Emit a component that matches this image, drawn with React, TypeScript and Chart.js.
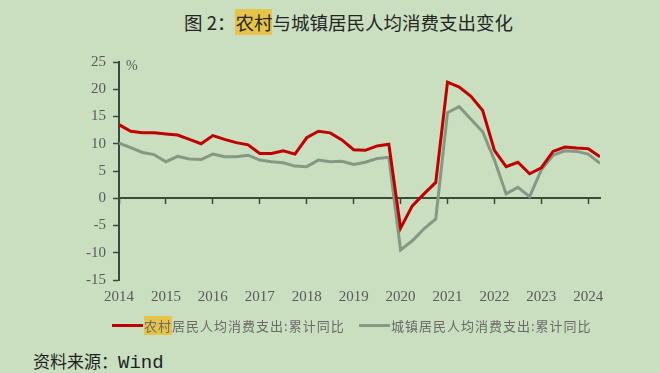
import React, { useEffect, useRef } from "react";
import { Chart, registerables } from "chart.js";

Chart.register(...registerables);

const quarters = [
  "2014Q1", "2014Q2", "2014Q3", "2014Q4",
  "2015Q1", "2015Q2", "2015Q3", "2015Q4",
  "2016Q1", "2016Q2", "2016Q3", "2016Q4",
  "2017Q1", "2017Q2", "2017Q3", "2017Q4",
  "2018Q1", "2018Q2", "2018Q3", "2018Q4",
  "2019Q1", "2019Q2", "2019Q3", "2019Q4",
  "2020Q1", "2020Q2", "2020Q3", "2020Q4",
  "2021Q1", "2021Q2", "2021Q3", "2021Q4",
  "2022Q1", "2022Q2", "2022Q3", "2022Q4",
  "2023Q1", "2023Q2", "2023Q3", "2023Q4",
  "2024Q1", "2024Q2",
];

const rural = [
  13.5, 12.3, 12.0, 12.0,
  11.8, 11.6, 10.8, 10.0,
  11.5, 10.8, 10.2, 9.8,
  8.2, 8.2, 8.7, 8.1,
  11.1, 12.3, 12.0, 10.7,
  8.9, 8.8, 9.6, 9.9,
  -5.5, -1.4, 0.8, 2.9,
  21.3, 20.4, 18.7, 16.1,
  8.8, 5.8, 6.6, 4.5,
  5.6, 8.6, 9.4, 9.2,
  9.1, 7.6,
];

const urban = [
  10.1, 9.3, 8.4, 8.0,
  6.7, 7.7, 7.2, 7.1,
  8.1, 7.6, 7.6, 7.9,
  7.0, 6.7, 6.5, 5.9,
  5.8, 7.0, 6.7, 6.8,
  6.2, 6.6, 7.3, 7.5,
  -9.5, -7.8, -5.6, -3.8,
  15.7, 16.8, 14.5, 12.2,
  7.0, 0.8, 2.0, 0.3,
  5.2, 7.9, 8.7, 8.6,
  8.1, 6.4,
];

const yearTicks = ["2014", "2015", "2016", "2017", "2018", "2019", "2020", "2021", "2022", "2023", "2024"];
const yTicks = [25, 20, 15, 10, 5, 0, -5, -10, -15];

const seriesNames = ["农村居民人均消费支出:累计同比", "城镇居民人均消费支出:累计同比"];

const BG = "#c9dfc0";
const RED = "#c00000";
const GRAY = "#869883";
const AXIS = "#3b4a3b";
const LABEL = "#5a5a5a";
const HILITE = "#e6c449";

function toX(q: string): number {
  const year = parseInt(q.slice(0, 4), 10);
  const qq = parseInt(q.slice(5), 10);
  return year + (qq - 1) / 4;
}

const xMin = Number(yearTicks[0]);
const xMax = toX(quarters[quarters.length - 1]);

export default function App() {
  const ref = useRef<HTMLCanvasElement | null>(null);

  useEffect(() => {
    if (!ref.current) return;
    const mk = (vals: number[]) => vals.map((v, i) => ({ x: toX(quarters[i]), y: v }));
    const chart = new Chart(ref.current, {
      type: "line",
      data: {
        datasets: [
          {
            label: seriesNames[0],
            data: mk(rural),
            borderColor: RED,
            backgroundColor: RED,
            borderWidth: 3,
            pointRadius: 0,
            tension: 0,
            xAxisID: "x",
            yAxisID: "y",
            order: 1,
          },
          {
            label: seriesNames[1],
            data: mk(urban),
            borderColor: GRAY,
            backgroundColor: GRAY,
            borderWidth: 3,
            pointRadius: 0,
            tension: 0,
            xAxisID: "x",
            yAxisID: "y",
            order: 2,
          },
        ],
      },
      options: {
        animation: false,
        responsive: false,
        maintainAspectRatio: false,
        layout: { padding: { top: 22, right: 60, bottom: 0, left: 0 } },
        plugins: {
          legend: { display: false },
          title: { display: false },
          tooltip: { enabled: false },
        },
        scales: {
          x: {
            type: "linear",
            position: "bottom",
            min: xMin,
            max: xMax,
            grid: { display: false, drawTicks: false },
            border: { display: false },
            ticks: {
              stepSize: 1,
              includeBounds: false,
              autoSkip: false,
              maxRotation: 0,
              padding: 8,
              color: LABEL,
              font: { family: "'Liberation Serif', serif", size: 15 },
              callback: (v: any) => {
                const idx = yearTicks.indexOf(String(v));
                return idx >= 0 ? yearTicks[idx] : "";
              },
            },
            afterFit: (s: any) => {
              s.height = 40;
            },
          },
          x2: {
            type: "linear",
            position: { y: 0 },
            min: xMin,
            max: xMax,
            grid: {
              display: true,
              drawOnChartArea: false,
              drawTicks: true,
              tickLength: 5,
              tickColor: AXIS,
              tickWidth: 1.5,
            },
            border: { display: true, color: AXIS, width: 2 },
            ticks: { display: false, stepSize: 1, includeBounds: false },
          },
          y: {
            type: "linear",
            position: "left",
            min: yTicks[yTicks.length - 1],
            max: yTicks[0],
            grid: {
              display: true,
              drawOnChartArea: false,
              drawTicks: true,
              tickLength: 6,
              tickColor: AXIS,
              tickWidth: 1.5,
            },
            border: { display: true, color: AXIS, width: 2 },
            ticks: {
              stepSize: 5,
              padding: 7,
              color: LABEL,
              font: { family: "'Liberation Serif', serif", size: 15 },
            },
            afterFit: (s: any) => {
              s.width = 119;
            },
          },
        },
      },
    });
    return () => chart.destroy();
  }, []);

  const legendText: React.CSSProperties = {
    fontFamily: "'Noto Sans CJK SC', sans-serif",
    fontSize: 13,
    color: "#6a6a6a",
    letterSpacing: 1,
    whiteSpace: "nowrap",
  };

  return (
    <div
      style={{
        position: "fixed",
        left: 0,
        top: 0,
        width: 660,
        height: 373,
        background: BG,
        overflow: "hidden",
      }}
    >
      <div
        style={{
          position: "absolute",
          left: 184,
          top: 9,
          fontFamily: "'Noto Sans CJK SC', sans-serif",
          fontSize: 18.5,
          color: "#262626",
          whiteSpace: "nowrap",
          lineHeight: "26px",
        }}
      >
        图 2：<span style={{ background: HILITE }}>农村</span>与城镇居民人均消费支出变化
      </div>
      <canvas
        ref={ref}
        width={660}
        height={280}
        style={{ position: "absolute", left: 0, top: 40, width: 660, height: 280 }}
      />
      <div
        style={{
          position: "absolute",
          left: 126,
          top: 58,
          fontFamily: "'Liberation Serif', serif",
          fontSize: 14,
          color: LABEL,
        }}
      >
        %
      </div>
      <div style={{ position: "absolute", left: 112, top: 316, display: "flex", alignItems: "center" }}>
        <span style={{ display: "inline-block", width: 31, height: 3, background: RED, marginRight: 1 }} />
        <span style={legendText}>
          <span style={{ background: HILITE }}>农村</span>居民人均消费支出:累计同比
        </span>
      </div>
      <div style={{ position: "absolute", left: 359, top: 316, display: "flex", alignItems: "center" }}>
        <span style={{ display: "inline-block", width: 31, height: 3, background: GRAY, marginRight: 1 }} />
        <span style={legendText}>城镇居民人均消费支出:累计同比</span>
      </div>
      <div
        style={{
          position: "absolute",
          left: 33,
          top: 349,
          fontSize: 17,
          color: "#1f1f1f",
          whiteSpace: "nowrap",
          lineHeight: "24px",
        }}
      >
        <span style={{ fontFamily: "'Noto Sans CJK SC', sans-serif" }}>资料来源：</span>
        <span style={{ fontFamily: "'Liberation Mono', monospace", fontSize: 19 }}>Wind</span>
      </div>
    </div>
  );
}
